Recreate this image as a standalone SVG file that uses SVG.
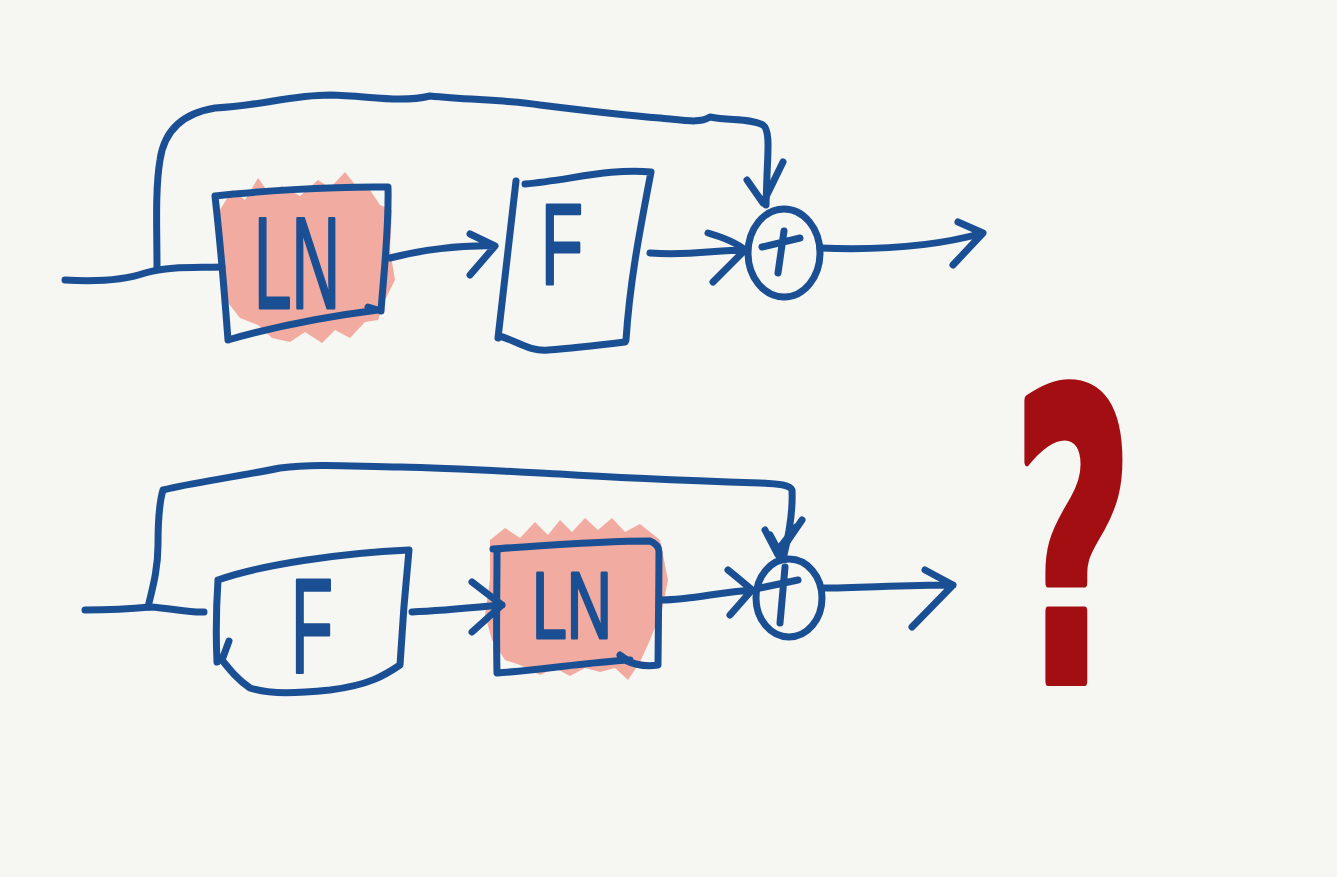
<svg xmlns="http://www.w3.org/2000/svg" width="1337" height="877" viewBox="0 0 1337 877">
<style>
.ink{fill:none;stroke:#1b4f93;stroke-width:7;stroke-linecap:round;stroke-linejoin:round}
.lbl{font-family:"Liberation Sans",Arial,sans-serif;fill:#1b4f93;stroke:#1b4f93;stroke-width:3;stroke-linejoin:round}
.hl{fill:#f2a398;opacity:0.9}
</style>
<rect width="1337" height="877" fill="#f6f6f3"/>
<g id="top">
  <g id="top-ln">
    <path class="hl" d="M220,210 L232,190 L245,200 L258,178 L268,192 L282,186 L300,196 L318,180 L330,188 L345,172 L356,186 L370,190 L380,205 L392,210 L390,250 L395,280 L385,300 L378,320 L365,322 L350,338 L335,330 L322,343 L305,332 L290,342 L272,338 L258,325 L240,318 L226,300 L220,270 Z"/>
    <path class="ink" d="M215,196 C250,192 330,186 388,187 C389,230 384,270 381,311 M228,340 C280,325 330,316 378,310 M215,196 C220,240 225,300 228,340 M368,307 L381,311"/>
    <text class="lbl" x="254" y="308" font-size="130" textLength="86" lengthAdjust="spacingAndGlyphs">LN</text>
  </g>
  <g id="top-f">
    <path class="ink" d="M516,181 L498,338 M525,184 C570,180 610,168 651,172 C640,230 630,280 626,340 M499,336 C515,340 530,352 548,350 C575,348 600,345 625,342"/>
    <text class="lbl" x="541" y="284" font-size="115" textLength="42" lengthAdjust="spacingAndGlyphs">F</text>
  </g>
  <g id="top-sum">
    <ellipse class="ink" cx="784" cy="253" rx="36" ry="44"/>
    <path class="ink" d="M762,247 L800,238 M784,231 L778,273"/>
  </g>
</g>
<g id="bottom">
  <g id="bottom-f">
    <path class="ink" d="M218,580 C260,565 340,553 409,550 C405,590 402,630 400,665 C385,675 370,685 330,690 C300,693 270,695 250,688 C238,680 230,670 222,660 M218,580 C216,610 216,640 217,662 M229,641 L222,660"/>
    <text class="lbl" x="291" y="672" font-size="134" textLength="42" lengthAdjust="spacingAndGlyphs">F</text>
  </g>
  <g id="bottom-ln">
    <path class="hl" d="M490,540 L505,528 L520,538 L535,522 L548,535 L560,520 L572,532 L585,518 L598,530 L612,518 L625,532 L640,524 L660,540 L668,580 L662,610 L650,640 L640,662 L628,680 L615,668 L600,672 L585,668 L570,676 L555,668 L540,675 L520,665 L505,660 L492,640 L485,615 L490,580 Z"/>
    <path class="ink" d="M493,549 C540,546 600,541 650,541 C655,543 659,547 659,552 C659,590 658,630 658,665 C645,667 635,665 625,660 M497,552 C497,590 496,630 497,673 C540,670 590,662 630,660 M620,655 L630,662"/>
    <text class="lbl" x="532" y="638" font-size="95" textLength="80" lengthAdjust="spacingAndGlyphs">LN</text>
  </g>
  <g id="bottom-sum">
    <ellipse class="ink" cx="789" cy="598" rx="33" ry="39"/>
    <path class="ink" d="M760,588 L798,580 M785,567 L780,623"/>
  </g>
</g>
<g id="connectors">
  <path class="ink" d="M65,280 C100,282 125,280 145,273 C170,266 195,268 222,267"/>
  <path class="ink" d="M157,268 C157,230 155,190 160,160 C165,125 190,112 215,108 C260,106 290,95 330,95 C370,96 400,103 430,96 C470,100 510,100 540,105 C580,110 620,115 660,118 C690,121 700,123 710,117 C730,121 750,118 763,125 C770,130 768,150 767,175 L766,205"/>
  <path class="ink" d="M747,180 L763,203 L783,162"/>
  <path class="ink" d="M390,258 C420,250 460,245 495,246 M470,234 L495,246 L470,275"/>
  <path class="ink" d="M650,253 C690,256 715,250 745,250 M708,233 C725,238 738,244 745,250 L713,282"/>
  <path class="ink" d="M820,248 C870,250 930,248 983,233 M958,222 L983,233 L953,265"/>
  <path class="ink" d="M85,610 C110,610 130,609 150,607 C170,608 190,613 204,612"/>
  <path class="ink" d="M148,607 C152,590 158,570 158,545 C158,520 160,500 163,490 C190,483 230,478 280,468 C320,463 360,467 400,467 C450,468 500,471 560,474 C620,478 700,481 760,483 C780,484 790,485 792,490 C793,510 790,530 784,555"/>
  <path class="ink" d="M765,530 L778,555 L802,520 M770,535 L778,550 L796,527"/>
  <path class="ink" d="M412,612 C440,611 470,608 502,605 M472,582 L502,605 L472,632"/>
  <path class="ink" d="M662,600 C690,600 720,592 752,590 M728,570 C738,578 745,584 752,590 L730,615"/>
  <path class="ink" d="M822,588 C860,588 900,585 953,585 M925,570 L953,585 L912,627"/>
</g>
<g id="question">
  <text x="0" y="0" transform="translate(1073,681) scale(0.52,1)" text-anchor="middle" font-family="'DejaVu Sans',sans-serif" font-weight="bold" font-size="400" fill="#a30e12" stroke="#a30e12" stroke-width="10" stroke-linejoin="round">?</text>
</g>
</svg>
